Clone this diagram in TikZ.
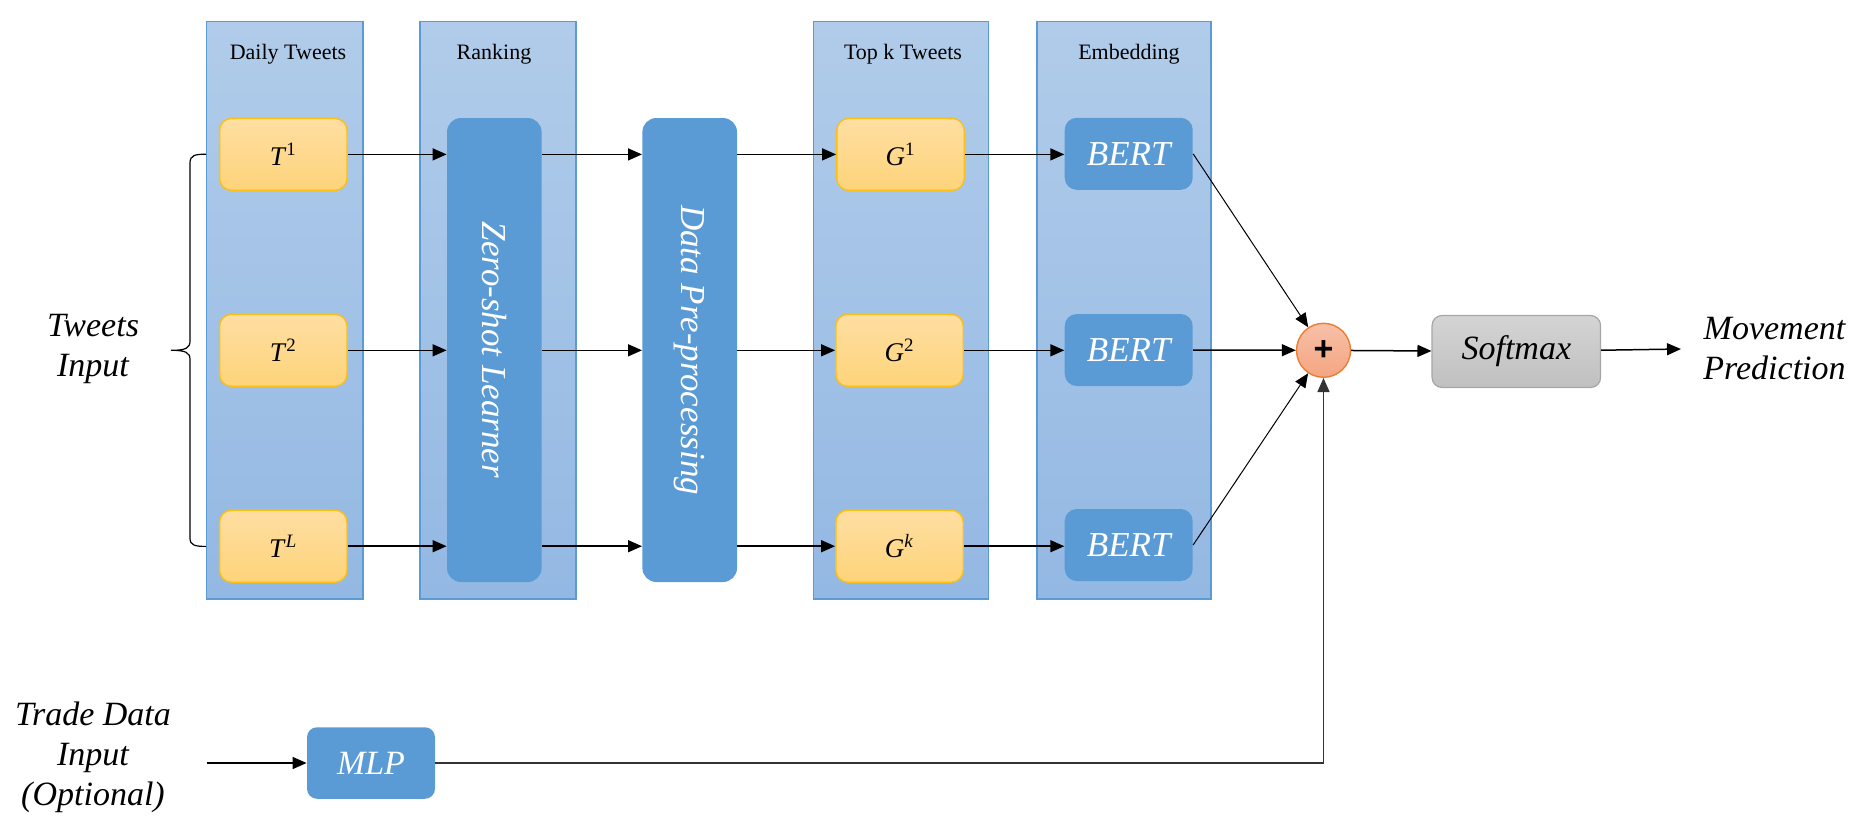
\documentclass[tikz,border=0pt]{standalone}
\usepackage{fontspec}
\setmainfont{Liberation Serif}
\newfontfamily\plusfont{Liberation Sans}
\usetikzlibrary{arrows.meta,shadings,calc}
\definecolor{colTop}{RGB}{177,204,234}
\definecolor{colBot}{RGB}{147,184,227}
\definecolor{colEdge}{RGB}{91,155,213}
\definecolor{blueBox}{RGB}{91,155,213}
\definecolor{yelTop}{RGB}{254,222,162}
\definecolor{yelBot}{RGB}{254,212,122}
\definecolor{yelEdge}{RGB}{252,192,20}
\definecolor{orTop}{RGB}{247,192,167}
\definecolor{orBot}{RGB}{244,165,130}
\definecolor{orEdge}{RGB}{237,125,49}
\definecolor{grTop}{RGB}{212,212,212}
\definecolor{grBot}{RGB}{192,192,192}
\definecolor{grEdge}{RGB}{166,166,166}
\begin{document}
\begin{tikzpicture}[x=0.5pt,y=-0.5pt,
  colbox/.style={draw=colEdge, line width=0.6pt, top color=colTop, bottom color=colBot,
     minimum width=#1, minimum height=288.8pt, inner sep=0pt},
  collabel/.style={anchor=base, font=\fontsize{11}{13}\selectfont},
  ybox/.style={draw=yelEdge, line width=0.7pt, top color=yelTop, bottom color=yelBot,
     rounded corners=6pt, minimum width=63.7pt, minimum height=36pt, inner sep=0pt,
     font=\fontsize{13.5}{15}\selectfont},
  tallbox/.style={fill=blueBox, rounded corners=7pt, minimum width=47.3pt, minimum height=232pt,
     inner sep=0pt, text=white, font=\fontsize{17.5}{20}\selectfont\itshape},
  bertbox/.style={fill=blueBox, rounded corners=6pt, minimum width=64pt, minimum height=36pt,
     inner sep=0pt, text=white, font=\fontsize{17.5}{20}\selectfont\itshape},
  biglabel/.style={align=center, font=\fontsize{17}{20}\selectfont\itshape, inner sep=0pt},
  arr/.style={-{Triangle[length=7pt,width=6pt]}, line width=0.75pt},
  arrthin/.style={-{Triangle[length=7pt,width=6pt]}, line width=0.5pt}
]
\useasboundingbox (0,0) rectangle (1872,832);

% columns
\node[colbox=78.25pt] (c1) at (284.75,310.2) {};
\node[colbox=78pt] (c2) at (498,310.2) {};
\node[colbox=87.5pt] (c3) at (900.9,310.2) {};
\node[colbox=87pt] (c4) at (1124,310.2) {};
\node[collabel] (l1) at (288,59.3) {Daily Tweets};
\node[collabel] (l2) at (494,59.3) {Ranking};
\node[collabel] (l3) at (903,59.3) {Top k Tweets};
\node[collabel] (l4) at (1129,59.3) {Embedding};

% tweets
\node[ybox] (t1) at (283.3,154.4) {\textit{T}\textsuperscript{1}};
\node[ybox] (t2) at (283.3,350.3) {\textit{T}\textsuperscript{2}};
\node[ybox] (t3) at (283.3,546.2) {\textit{T}\textsuperscript{\textit{L}}};

% tall boxes
\node[tallbox] (zs) at (494.3,350) {\rotatebox{-90}{Zero-shot Learner}};
\node[tallbox] (dp) at (689.7,350) {\rotatebox{-90}{Data Pre-processing}};

% top k
\node[ybox] (g1) at (900.5,154.4) {\textit{G}\textsuperscript{1}};
\node[ybox] (g2) at (899.5,350.3) {\textit{G}\textsuperscript{2}};
\node[ybox] (g3) at (899.5,546.2) {\textit{G}\textsuperscript{\textit{k}}};

% bert
\node[bertbox] (b1) at (1128.7,153.8) {BERT};
\node[bertbox] (b2) at (1128.7,350) {BERT};
\node[bertbox] (b3) at (1128.7,545) {BERT};

% plus
\node[circle, draw=orEdge, line width=0.7pt, top color=orTop, bottom color=orBot,
  minimum size=27pt, inner sep=0pt, font=\plusfont\bfseries\fontsize{17}{17}\selectfont] (plus) at (1323.5,350.3) {+};

% softmax
\node[draw=grEdge, line width=0.6pt, top color=grTop, bottom color=grBot, rounded corners=5pt,
  minimum width=84.25pt, minimum height=36pt, inner sep=0pt,
  font=\fontsize{17}{20}\selectfont\itshape] (soft) at (1516.3,351.5) {Softmax};

% labels
\node[biglabel] (ti) at (93,349) {Tweets\\Input};
\node[biglabel, inner xsep=11pt] (mp) at (1774.5,349) {Movement\\Prediction};
\node[biglabel] (td) at (93,757) {Trade Data\\Input\\(Optional)};

% MLP
\node[fill=blueBox, rounded corners=5pt, minimum width=64pt, minimum height=35.75pt, inner sep=0pt,
  text=white, font=\fontsize{17}{20}\selectfont\itshape] (mlp) at (371,763) {MLP};
\coordinate (tdin) at (206.7,763);

% brace
\draw[line width=0.6pt] (206,154.2) .. controls (195,154.2) and (190,155.2) .. (190,163) -- (190,341)
  .. controls (190,348) and (186,350.3) .. (171,350.3)
  .. controls (186,350.3) and (190,352.6) .. (190,359.6) -- (190,538)
  .. controls (190,545.4) and (195,546.4) .. (206,546.4);

% arrows rows
\foreach \r/\g/\b in {t1/g1/b1, t2/g2/b2, t3/g3/b3}{
  \draw[arr] (\r.east) -- (\r.east -| zs.west);
  \draw[arr] (\r.east -| zs.east) -- (\r.east -| dp.west);
  \draw[arr] (\r.east -| dp.east) -- (\r.east -| \g.west);
  \draw[arr] (\g.east) -- (\g.east -| \b.west);
}
\draw[arrthin] (b1.east) -- (plus);
\draw[arr] (b2.east) -- (plus);
\draw[arrthin] (b3.east) -- (plus);
\draw[arr] (plus) -- (soft);
\draw[arr] (soft) -- (mp.west);
\draw[arr] (tdin) -- (mlp);
\draw[arr, draw=black!80] (mlp.east) -| (plus.south);
\end{tikzpicture}
\end{document}
